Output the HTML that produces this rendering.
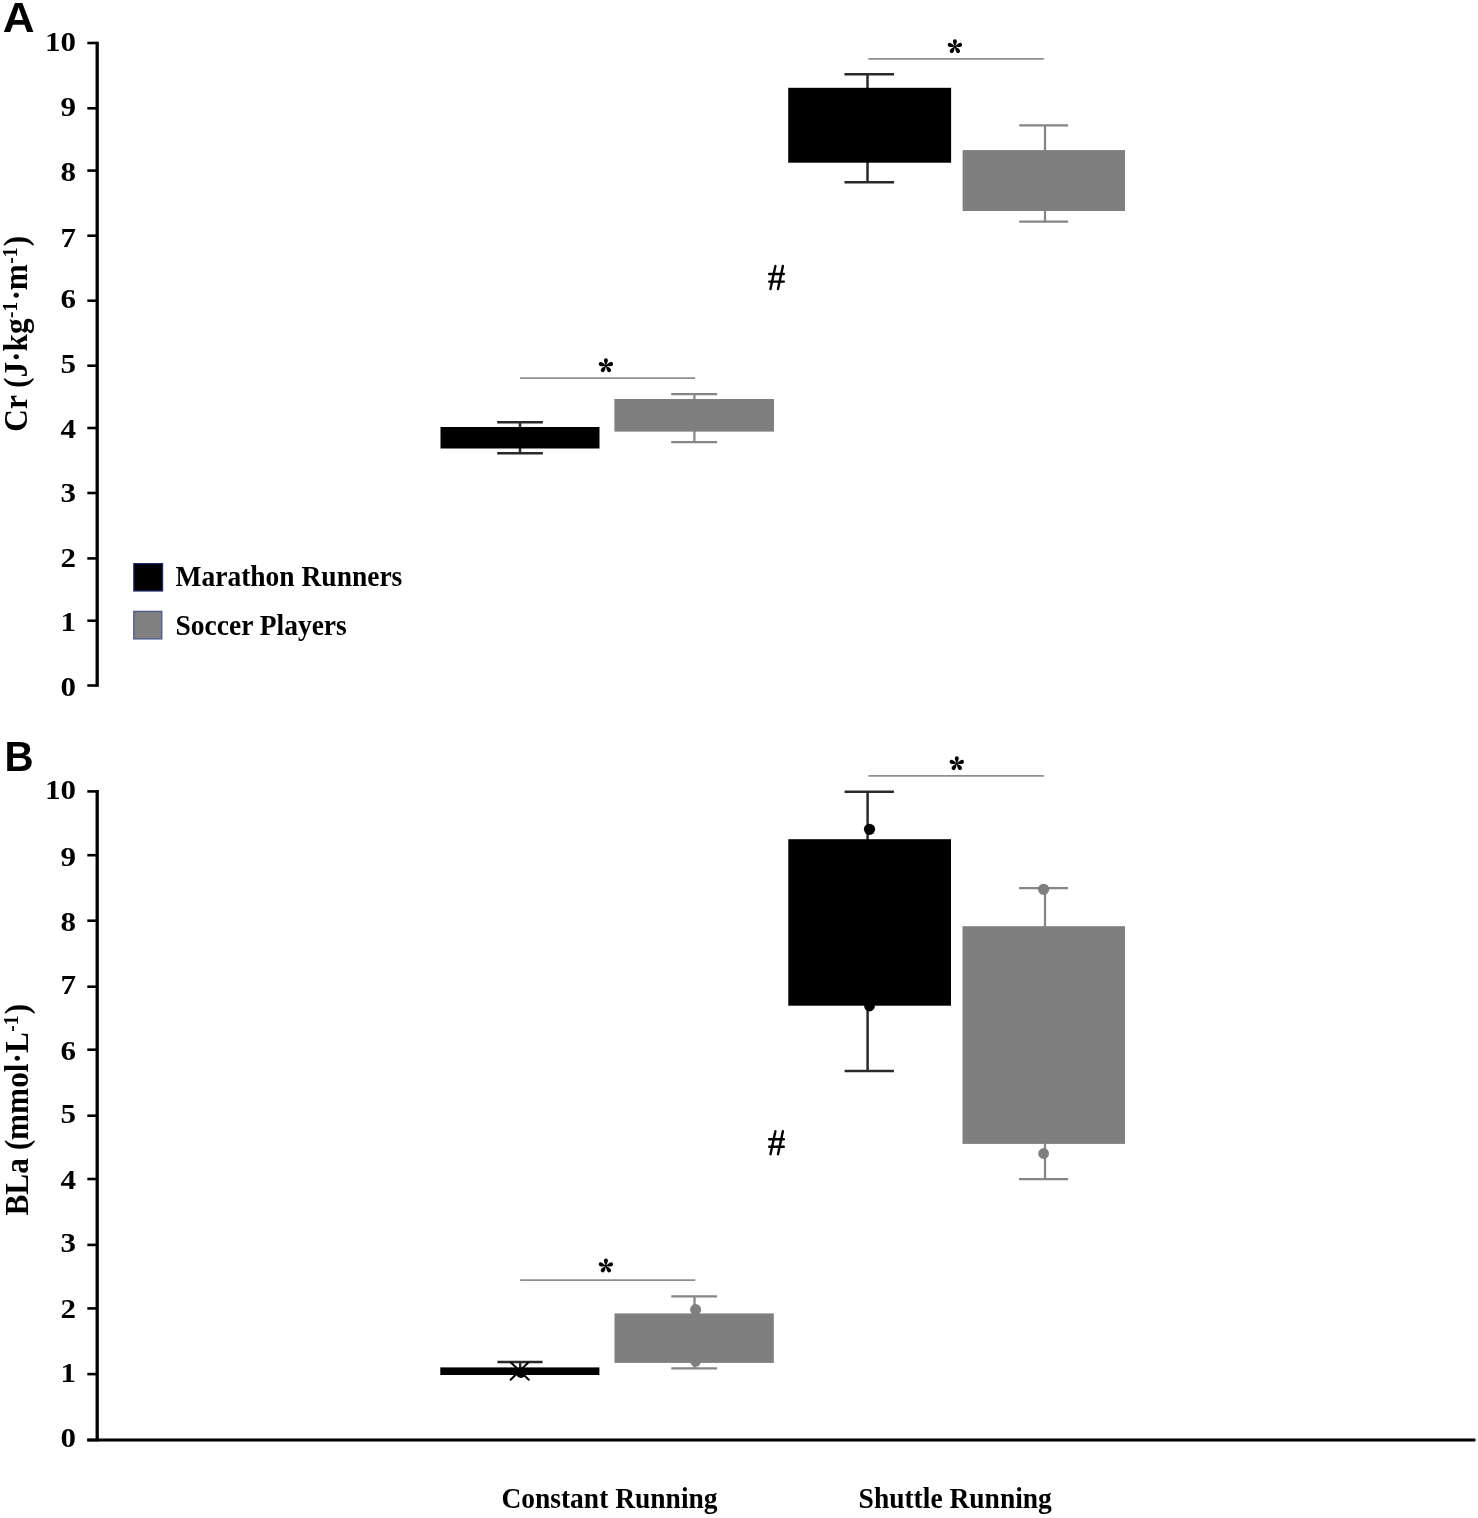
<!DOCTYPE html>
<html><head><meta charset="utf-8"><title>Cr and BLa chart</title>
<style>html,body{margin:0;padding:0;background:#fff;width:1478px;height:1518px;overflow:hidden;position:relative;font-family:"Liberation Serif", serif;}</style>
</head><body>
<svg width="1478" height="1518" viewBox="0 0 1478 1518" style="position:absolute;left:0;top:0">
<rect width="1478" height="1518" fill="#fff"/>
<g style="filter:grayscale(1)">
<text transform="translate(2.8,32.3) scale(1.05,1)" font-family='"Liberation Sans", sans-serif' font-weight="700" font-size="42">A</text>
<text transform="translate(4.4,771.0) scale(0.96,1)" font-family='"Liberation Sans", sans-serif' font-weight="700" font-size="42">B</text>
<line x1="97.20" y1="41.70" x2="97.20" y2="686.80" stroke="#000" stroke-width="3.3" stroke-linecap="butt"/>
<line x1="87.30" y1="43.00" x2="97.20" y2="43.00" stroke="#000" stroke-width="2.6" stroke-linecap="butt"/>
<line x1="87.30" y1="108.30" x2="97.20" y2="108.30" stroke="#000" stroke-width="2.6" stroke-linecap="butt"/>
<line x1="87.30" y1="170.60" x2="97.20" y2="170.60" stroke="#000" stroke-width="2.6" stroke-linecap="butt"/>
<line x1="87.30" y1="235.70" x2="97.20" y2="235.70" stroke="#000" stroke-width="2.6" stroke-linecap="butt"/>
<line x1="87.30" y1="300.70" x2="97.20" y2="300.70" stroke="#000" stroke-width="2.6" stroke-linecap="butt"/>
<line x1="87.30" y1="365.70" x2="97.20" y2="365.70" stroke="#000" stroke-width="2.6" stroke-linecap="butt"/>
<line x1="87.30" y1="428.00" x2="97.20" y2="428.00" stroke="#000" stroke-width="2.6" stroke-linecap="butt"/>
<line x1="87.30" y1="493.00" x2="97.20" y2="493.00" stroke="#000" stroke-width="2.6" stroke-linecap="butt"/>
<line x1="87.30" y1="558.40" x2="97.20" y2="558.40" stroke="#000" stroke-width="2.6" stroke-linecap="butt"/>
<line x1="87.30" y1="620.70" x2="97.20" y2="620.70" stroke="#000" stroke-width="2.6" stroke-linecap="butt"/>
<line x1="87.30" y1="685.50" x2="97.20" y2="685.50" stroke="#000" stroke-width="2.6" stroke-linecap="butt"/>
<text transform="translate(75.90,50.75) scale(1.17,1)" text-anchor="end" font-family='"Liberation Serif", serif' font-weight="700" font-size="26.5">10</text>
<text transform="translate(75.90,116.35) scale(1.17,1)" text-anchor="end" font-family='"Liberation Serif", serif' font-weight="700" font-size="26.5">9</text>
<text transform="translate(75.90,181.15) scale(1.17,1)" text-anchor="end" font-family='"Liberation Serif", serif' font-weight="700" font-size="26.5">8</text>
<text transform="translate(75.90,246.80) scale(1.17,1)" text-anchor="end" font-family='"Liberation Serif", serif' font-weight="700" font-size="26.5">7</text>
<text transform="translate(75.90,308.15) scale(1.17,1)" text-anchor="end" font-family='"Liberation Serif", serif' font-weight="700" font-size="26.5">6</text>
<text transform="translate(75.90,373.00) scale(1.17,1)" text-anchor="end" font-family='"Liberation Serif", serif' font-weight="700" font-size="26.5">5</text>
<text transform="translate(75.90,438.20) scale(1.17,1)" text-anchor="end" font-family='"Liberation Serif", serif' font-weight="700" font-size="26.5">4</text>
<text transform="translate(75.90,501.90) scale(1.17,1)" text-anchor="end" font-family='"Liberation Serif", serif' font-weight="700" font-size="26.5">3</text>
<text transform="translate(75.90,566.65) scale(1.17,1)" text-anchor="end" font-family='"Liberation Serif", serif' font-weight="700" font-size="26.5">2</text>
<text transform="translate(75.90,630.55) scale(1.17,1)" text-anchor="end" font-family='"Liberation Serif", serif' font-weight="700" font-size="26.5">1</text>
<text transform="translate(75.90,696.20) scale(1.17,1)" text-anchor="end" font-family='"Liberation Serif", serif' font-weight="700" font-size="26.5">0</text>
<text transform="translate(27.2,431.7) scale(1,0.92) rotate(-90)" font-family='"Liberation Serif", serif' font-weight="700" font-size="34">Cr (J·kg<tspan font-size="21" dx="0.5" dy="-9.8">-1</tspan><tspan dx="1.5" dy="9.8">·m</tspan><tspan font-size="21" dx="0.5" dy="-9.8">-1</tspan><tspan dx="1.5" dy="9.8">)</tspan></text>
<line x1="520.00" y1="422.30" x2="520.00" y2="453.30" stroke="#2a2a2a" stroke-width="2.5" stroke-linecap="butt"/>
<line x1="497.20" y1="422.30" x2="542.90" y2="422.30" stroke="#2a2a2a" stroke-width="2.5" stroke-linecap="butt"/>
<line x1="497.20" y1="453.30" x2="542.90" y2="453.30" stroke="#2a2a2a" stroke-width="2.5" stroke-linecap="butt"/>
<rect x="440.50" y="427.00" width="159.00" height="21.50" fill="#000" />
<line x1="694.40" y1="394.00" x2="694.40" y2="442.20" stroke="#868686" stroke-width="2.25" stroke-linecap="butt"/>
<line x1="671.20" y1="394.00" x2="717.10" y2="394.00" stroke="#868686" stroke-width="2.25" stroke-linecap="butt"/>
<line x1="671.20" y1="442.20" x2="717.10" y2="442.20" stroke="#868686" stroke-width="2.25" stroke-linecap="butt"/>
<rect x="614.40" y="399.00" width="159.60" height="32.60" fill="#7f7f7f" />
<line x1="520.10" y1="378.10" x2="695.10" y2="378.10" stroke="#8e8e8e" stroke-width="1.8" stroke-linecap="butt"/>
<g transform="translate(605.90,365.70)" fill="#000"><path transform="rotate(0)" d="M 0,0 C -0.45,-1.2 -2.00,-3.25 -2.00,-5.45 A 2.00 2.00 0 1 1 2.00,-5.45 C 2.00,-3.25 0.45,-1.2 0,0 Z"/><path transform="rotate(72)" d="M 0,0 C -0.45,-1.2 -2.00,-3.25 -2.00,-5.45 A 2.00 2.00 0 1 1 2.00,-5.45 C 2.00,-3.25 0.45,-1.2 0,0 Z"/><path transform="rotate(144)" d="M 0,0 C -0.45,-1.2 -2.00,-3.25 -2.00,-5.45 A 2.00 2.00 0 1 1 2.00,-5.45 C 2.00,-3.25 0.45,-1.2 0,0 Z"/><path transform="rotate(216)" d="M 0,0 C -0.45,-1.2 -2.00,-3.25 -2.00,-5.45 A 2.00 2.00 0 1 1 2.00,-5.45 C 2.00,-3.25 0.45,-1.2 0,0 Z"/><path transform="rotate(288)" d="M 0,0 C -0.45,-1.2 -2.00,-3.25 -2.00,-5.45 A 2.00 2.00 0 1 1 2.00,-5.45 C 2.00,-3.25 0.45,-1.2 0,0 Z"/><circle r="1.2"/></g>
<line x1="867.50" y1="74.20" x2="867.50" y2="182.20" stroke="#2a2a2a" stroke-width="2.5" stroke-linecap="butt"/>
<line x1="844.50" y1="74.20" x2="894.00" y2="74.20" stroke="#2a2a2a" stroke-width="2.5" stroke-linecap="butt"/>
<line x1="844.50" y1="182.20" x2="894.00" y2="182.20" stroke="#2a2a2a" stroke-width="2.5" stroke-linecap="butt"/>
<rect x="788.20" y="87.80" width="162.90" height="74.90" fill="#000" />
<line x1="1045.00" y1="125.30" x2="1045.00" y2="221.70" stroke="#868686" stroke-width="2.25" stroke-linecap="butt"/>
<line x1="1019.20" y1="125.30" x2="1068.10" y2="125.30" stroke="#868686" stroke-width="2.25" stroke-linecap="butt"/>
<line x1="1019.20" y1="221.70" x2="1068.10" y2="221.70" stroke="#868686" stroke-width="2.25" stroke-linecap="butt"/>
<rect x="962.60" y="150.10" width="162.40" height="60.90" fill="#7f7f7f" />
<line x1="868.30" y1="58.90" x2="1043.80" y2="58.90" stroke="#8e8e8e" stroke-width="1.8" stroke-linecap="butt"/>
<g transform="translate(954.90,46.60)" fill="#000"><path transform="rotate(0)" d="M 0,0 C -0.45,-1.2 -2.00,-3.25 -2.00,-5.45 A 2.00 2.00 0 1 1 2.00,-5.45 C 2.00,-3.25 0.45,-1.2 0,0 Z"/><path transform="rotate(72)" d="M 0,0 C -0.45,-1.2 -2.00,-3.25 -2.00,-5.45 A 2.00 2.00 0 1 1 2.00,-5.45 C 2.00,-3.25 0.45,-1.2 0,0 Z"/><path transform="rotate(144)" d="M 0,0 C -0.45,-1.2 -2.00,-3.25 -2.00,-5.45 A 2.00 2.00 0 1 1 2.00,-5.45 C 2.00,-3.25 0.45,-1.2 0,0 Z"/><path transform="rotate(216)" d="M 0,0 C -0.45,-1.2 -2.00,-3.25 -2.00,-5.45 A 2.00 2.00 0 1 1 2.00,-5.45 C 2.00,-3.25 0.45,-1.2 0,0 Z"/><path transform="rotate(288)" d="M 0,0 C -0.45,-1.2 -2.00,-3.25 -2.00,-5.45 A 2.00 2.00 0 1 1 2.00,-5.45 C 2.00,-3.25 0.45,-1.2 0,0 Z"/><circle r="1.2"/></g>
<g transform="translate(768.00,265.00)" stroke="#000" stroke-width="2.4" stroke-linecap="round" fill="none"><line x1="7.4" y1="1" x2="2.5" y2="24"/><line x1="14.9" y1="1" x2="10" y2="24"/><line x1="1.2" y1="9" x2="15.8" y2="9"/><line x1="1.2" y1="16.6" x2="15.8" y2="16.6"/></g>
<text transform="translate(175.5,585.6) scale(1,1.05)" font-family='"Liberation Serif", serif' font-weight="700" font-size="27.5">Marathon Runners</text>
<text transform="translate(175.5,635.4) scale(1,1.05)" font-family='"Liberation Serif", serif' font-weight="700" font-size="27.5">Soccer Players</text>
<line x1="97.20" y1="790.10" x2="97.20" y2="1441.30" stroke="#000" stroke-width="3.3" stroke-linecap="butt"/>
<line x1="87.30" y1="791.40" x2="97.20" y2="791.40" stroke="#000" stroke-width="2.6" stroke-linecap="butt"/>
<line x1="87.30" y1="855.20" x2="97.20" y2="855.20" stroke="#000" stroke-width="2.6" stroke-linecap="butt"/>
<line x1="87.30" y1="920.70" x2="97.20" y2="920.70" stroke="#000" stroke-width="2.6" stroke-linecap="butt"/>
<line x1="87.30" y1="986.70" x2="97.20" y2="986.70" stroke="#000" stroke-width="2.6" stroke-linecap="butt"/>
<line x1="87.30" y1="1049.70" x2="97.20" y2="1049.70" stroke="#000" stroke-width="2.6" stroke-linecap="butt"/>
<line x1="87.30" y1="1115.70" x2="97.20" y2="1115.70" stroke="#000" stroke-width="2.6" stroke-linecap="butt"/>
<line x1="87.30" y1="1179.00" x2="97.20" y2="1179.00" stroke="#000" stroke-width="2.6" stroke-linecap="butt"/>
<line x1="87.30" y1="1244.90" x2="97.20" y2="1244.90" stroke="#000" stroke-width="2.6" stroke-linecap="butt"/>
<line x1="87.30" y1="1308.40" x2="97.20" y2="1308.40" stroke="#000" stroke-width="2.6" stroke-linecap="butt"/>
<line x1="87.30" y1="1374.10" x2="97.20" y2="1374.10" stroke="#000" stroke-width="2.6" stroke-linecap="butt"/>
<line x1="87.30" y1="1440.00" x2="97.20" y2="1440.00" stroke="#000" stroke-width="2.6" stroke-linecap="butt"/>
<text transform="translate(75.90,799.10) scale(1.17,1)" text-anchor="end" font-family='"Liberation Serif", serif' font-weight="700" font-size="26.5">10</text>
<text transform="translate(75.90,865.80) scale(1.17,1)" text-anchor="end" font-family='"Liberation Serif", serif' font-weight="700" font-size="26.5">9</text>
<text transform="translate(75.90,931.00) scale(1.17,1)" text-anchor="end" font-family='"Liberation Serif", serif' font-weight="700" font-size="26.5">8</text>
<text transform="translate(75.90,994.40) scale(1.17,1)" text-anchor="end" font-family='"Liberation Serif", serif' font-weight="700" font-size="26.5">7</text>
<text transform="translate(75.90,1060.30) scale(1.17,1)" text-anchor="end" font-family='"Liberation Serif", serif' font-weight="700" font-size="26.5">6</text>
<text transform="translate(75.90,1123.00) scale(1.17,1)" text-anchor="end" font-family='"Liberation Serif", serif' font-weight="700" font-size="26.5">5</text>
<text transform="translate(75.90,1188.50) scale(1.17,1)" text-anchor="end" font-family='"Liberation Serif", serif' font-weight="700" font-size="26.5">4</text>
<text transform="translate(75.90,1252.30) scale(1.17,1)" text-anchor="end" font-family='"Liberation Serif", serif' font-weight="700" font-size="26.5">3</text>
<text transform="translate(75.90,1318.30) scale(1.17,1)" text-anchor="end" font-family='"Liberation Serif", serif' font-weight="700" font-size="26.5">2</text>
<text transform="translate(75.90,1382.00) scale(1.17,1)" text-anchor="end" font-family='"Liberation Serif", serif' font-weight="700" font-size="26.5">1</text>
<text transform="translate(75.90,1447.00) scale(1.17,1)" text-anchor="end" font-family='"Liberation Serif", serif' font-weight="700" font-size="26.5">0</text>
<line x1="87.30" y1="1440.00" x2="1475.50" y2="1440.00" stroke="#000" stroke-width="3.2" stroke-linecap="butt"/>
<text transform="translate(27.7,1215.5) scale(1,0.92) rotate(-90)" font-family='"Liberation Serif", serif' font-weight="700" font-size="34">BLa (mmol·L<tspan font-size="21" dx="0.5" dy="-9.8">-1</tspan><tspan dx="1.5" dy="9.8">)</tspan></text>
<line x1="520.20" y1="1362.10" x2="520.20" y2="1372.00" stroke="#2a2a2a" stroke-width="2.5" stroke-linecap="butt"/>
<line x1="497.40" y1="1362.10" x2="542.60" y2="1362.10" stroke="#2a2a2a" stroke-width="2.5" stroke-linecap="butt"/>
<line x1="497.40" y1="1372.00" x2="542.60" y2="1372.00" stroke="#2a2a2a" stroke-width="2.5" stroke-linecap="butt"/>
<rect x="440.30" y="1367.40" width="159.10" height="7.60" fill="#000" />
<g stroke="#000" stroke-width="2" stroke-linecap="round"><line x1="510.9" y1="1362.5" x2="528.8" y2="1379.8"/><line x1="528.3" y1="1362.5" x2="510.6" y2="1379.8"/></g>
<circle cx="521.00" cy="1373.00" r="5.00" fill="#000"/>
<line x1="694.50" y1="1296.30" x2="694.50" y2="1368.30" stroke="#868686" stroke-width="2.25" stroke-linecap="butt"/>
<line x1="671.30" y1="1296.30" x2="717.00" y2="1296.30" stroke="#868686" stroke-width="2.25" stroke-linecap="butt"/>
<line x1="671.30" y1="1368.30" x2="717.00" y2="1368.30" stroke="#868686" stroke-width="2.25" stroke-linecap="butt"/>
<circle cx="695.60" cy="1309.60" r="5.50" fill="#7f7f7f"/>
<circle cx="695.60" cy="1361.50" r="5.20" fill="#7f7f7f"/>
<rect x="614.50" y="1313.40" width="159.30" height="49.50" fill="#7f7f7f" />
<line x1="520.10" y1="1280.10" x2="695.30" y2="1280.10" stroke="#8e8e8e" stroke-width="1.8" stroke-linecap="butt"/>
<g transform="translate(605.90,1266.00)" fill="#000"><path transform="rotate(0)" d="M 0,0 C -0.45,-1.2 -2.00,-3.25 -2.00,-5.45 A 2.00 2.00 0 1 1 2.00,-5.45 C 2.00,-3.25 0.45,-1.2 0,0 Z"/><path transform="rotate(72)" d="M 0,0 C -0.45,-1.2 -2.00,-3.25 -2.00,-5.45 A 2.00 2.00 0 1 1 2.00,-5.45 C 2.00,-3.25 0.45,-1.2 0,0 Z"/><path transform="rotate(144)" d="M 0,0 C -0.45,-1.2 -2.00,-3.25 -2.00,-5.45 A 2.00 2.00 0 1 1 2.00,-5.45 C 2.00,-3.25 0.45,-1.2 0,0 Z"/><path transform="rotate(216)" d="M 0,0 C -0.45,-1.2 -2.00,-3.25 -2.00,-5.45 A 2.00 2.00 0 1 1 2.00,-5.45 C 2.00,-3.25 0.45,-1.2 0,0 Z"/><path transform="rotate(288)" d="M 0,0 C -0.45,-1.2 -2.00,-3.25 -2.00,-5.45 A 2.00 2.00 0 1 1 2.00,-5.45 C 2.00,-3.25 0.45,-1.2 0,0 Z"/><circle r="1.2"/></g>
<line x1="867.60" y1="791.70" x2="867.60" y2="1070.90" stroke="#2a2a2a" stroke-width="2.5" stroke-linecap="butt"/>
<line x1="844.60" y1="791.70" x2="893.90" y2="791.70" stroke="#2a2a2a" stroke-width="2.5" stroke-linecap="butt"/>
<line x1="844.60" y1="1070.90" x2="893.90" y2="1070.90" stroke="#2a2a2a" stroke-width="2.5" stroke-linecap="butt"/>
<circle cx="869.50" cy="829.30" r="5.60" fill="#000"/>
<circle cx="869.50" cy="1006.00" r="5.40" fill="#000"/>
<rect x="788.30" y="839.20" width="162.70" height="166.50" fill="#000" />
<line x1="1045.00" y1="888.20" x2="1045.00" y2="1179.20" stroke="#868686" stroke-width="2.25" stroke-linecap="butt"/>
<line x1="1019.00" y1="888.20" x2="1068.10" y2="888.20" stroke="#868686" stroke-width="2.25" stroke-linecap="butt"/>
<line x1="1019.00" y1="1179.20" x2="1068.10" y2="1179.20" stroke="#868686" stroke-width="2.25" stroke-linecap="butt"/>
<circle cx="1043.60" cy="889.30" r="5.60" fill="#7f7f7f"/>
<circle cx="1043.60" cy="1153.50" r="5.40" fill="#7f7f7f"/>
<rect x="962.50" y="926.20" width="162.50" height="217.70" fill="#7f7f7f" />
<line x1="868.40" y1="775.90" x2="1043.80" y2="775.90" stroke="#8e8e8e" stroke-width="1.8" stroke-linecap="butt"/>
<g transform="translate(956.80,763.60)" fill="#000"><path transform="rotate(0)" d="M 0,0 C -0.45,-1.2 -2.00,-3.25 -2.00,-5.45 A 2.00 2.00 0 1 1 2.00,-5.45 C 2.00,-3.25 0.45,-1.2 0,0 Z"/><path transform="rotate(72)" d="M 0,0 C -0.45,-1.2 -2.00,-3.25 -2.00,-5.45 A 2.00 2.00 0 1 1 2.00,-5.45 C 2.00,-3.25 0.45,-1.2 0,0 Z"/><path transform="rotate(144)" d="M 0,0 C -0.45,-1.2 -2.00,-3.25 -2.00,-5.45 A 2.00 2.00 0 1 1 2.00,-5.45 C 2.00,-3.25 0.45,-1.2 0,0 Z"/><path transform="rotate(216)" d="M 0,0 C -0.45,-1.2 -2.00,-3.25 -2.00,-5.45 A 2.00 2.00 0 1 1 2.00,-5.45 C 2.00,-3.25 0.45,-1.2 0,0 Z"/><path transform="rotate(288)" d="M 0,0 C -0.45,-1.2 -2.00,-3.25 -2.00,-5.45 A 2.00 2.00 0 1 1 2.00,-5.45 C 2.00,-3.25 0.45,-1.2 0,0 Z"/><circle r="1.2"/></g>
<g transform="translate(768.00,1130.20)" stroke="#000" stroke-width="2.4" stroke-linecap="round" fill="none"><line x1="7.4" y1="1" x2="2.5" y2="24"/><line x1="14.9" y1="1" x2="10" y2="24"/><line x1="1.2" y1="9" x2="15.8" y2="9"/><line x1="1.2" y1="16.6" x2="15.8" y2="16.6"/></g>
<text transform="translate(501.4,1508.4) scale(1,1.1)" font-family='"Liberation Serif", serif' font-weight="700" font-size="27.5">Constant Running</text>
<text transform="translate(858.6,1508.4) scale(1,1.1)" font-family='"Liberation Serif", serif' font-weight="700" font-size="27.5">Shuttle Running</text>
</g>
<rect x="133.8" y="563.6" width="28.8" height="27.4" fill="#000" stroke="#1c2a6a" stroke-width="1.2"/>
<rect x="133.8" y="611.4" width="28.0" height="27.5" fill="#808080" stroke="#4a5a8c" stroke-width="1.3"/>
</svg>
</body></html>
